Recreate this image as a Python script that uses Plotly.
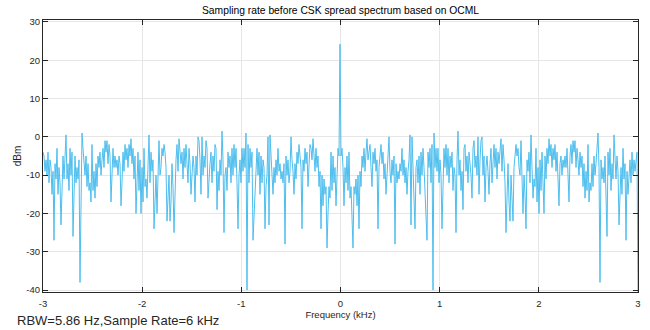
import numpy as np
import plotly.graph_objects as go

# Positive-frequency half of the spectrum (dBm), from just above 0 kHz up to 3 kHz
pos_half = [
    -5, -3, -8, -18, -8, -12, -5, -14, -4, -16,
    -13, -20, -29, -13, -15, -11, -18, -10, -24, -9,
    -13, -5, -8, -3, -9, -4, -0.5, -6, -3, -2,
    -8, -13, -4, -7, -3, -9, -6, -24, -8, -5,
    -2, -7, -4, -11, -7, -15, -9, -6, 0, -9,
    -12, -6, -10, -5, -28, -7, -12, -9, -11, -7,
    -9, -3, -10, -6, -12, -8, -15, -9, -6, 0.5,
    -23, 0, -10, -13, -24, -8, -6, -12, -5, -15,
    -4, -10, -3, -8, -16, -20, -27, -4, -8, -3,
    -12, -2, -40, 1, -8, -3, -9, -3, -12, -6,
    -10, -24, -12, -3, -8, -2, -10, -3, -12, -5,
    -8, -4, -14, -8, -10, -25, -6, 1.5, -10, -6,
    -14, -9, -19, -3, -2, -9, -5, -12, -4, -7,
    -10, -16, -3, -1, -8, -5, -10, 0, -15, -6,
    -1, 0, -10, -5, -17, -8, -5, -9, -15, -7,
    -3, -12, -6, -2, -8, -3, -11, -4, -7, -3,
    -0.5, -9, -2, -6, -12, -25, -13, -7, -17, -22,
    -10, -16, -22, -8, -4, -2, -5, -3, -8, -10,
    -1, -12, -20, -10, -15, -24, -6, -9, -4, -12,
    0.5, -8, -16, -11, -13, -3, -17, -8, -20, -6,
    -14, -4, -10, -20, -5, -11, -3, -7, -0.5, -5,
    -2, -8, -3, -6, -2, -9, -4, -12, -18, -7,
    -5, -10, -6, -8, -5, -8, -3, -10, -17, -5,
    -2, -7, -1, -4, -1, -8, -3, -6, -10, -4,
    -8, -5, -13, -7, -16, -9, -14, -2, -17, -12,
    -14, -7, -13, -5, -10, -7, -3, 1, -8, -38,
    -6, -11, -8, -12, -5, -18, -26, -4, -10, -3,
    -14, -7, -11, 0.5, -6, -11, -5, -9, -23, -12,
    -8, -15, -3, -11, -7, -27, -9, -15, -8, -6,
    -12, -4, -10, -6, -9, -5, -4,
]
dc_peak = 24.2        # carrier line at 0 kHz
edge_value = -40.5    # last bin at +3 kHz

power_dbm = pos_half[::-1] + [dc_peak] + pos_half + [edge_value]
freq_khz = np.linspace(-3, 3, len(power_dbm))

x_ticks = [-3, -2, -1, 0, 1, 2, 3]
y_ticks = [-40, -30, -20, -10, 0, 10, 20, 30]

fig = go.Figure()
fig.add_trace(go.Scatter(
    x=freq_khz, y=power_dbm, mode="lines",
    line=dict(color="#4DBEEE", width=1),
    hoverinfo="skip", showlegend=False,
))

font_family = "Liberation Sans, Arial, sans-serif"
axis_common = dict(
    showline=True, mirror="ticks", linecolor="#262626", linewidth=1,
    ticks="inside", ticklen=5, tickcolor="#262626",
    showgrid=True, gridcolor="#E6E6E6", gridwidth=1,
    zeroline=False, automargin=False,
    tickfont=dict(family=font_family, size=9.5, color="#262626"),
)

L, R, T, B = 43, 638, 20, 292
fig.update_layout(
    width=650, height=330,
    margin=dict(l=L, r=650 - R, t=T, b=330 - B),
    paper_bgcolor="white", plot_bgcolor="white",
    font=dict(family=font_family, color="#262626"),
    title=dict(
        text="Sampling rate before CSK spread spectrum based on OCML",
        x=(L + R) / 2 / 650, xanchor="center",
        y=1 - 10 / 330, yanchor="middle",
        font=dict(family=font_family, size=10.3, color="#000000"),
    ),
    xaxis=dict(
        range=[-3, 3], tickvals=x_ticks,
        ticktext=[str(v) for v in x_ticks],
        ticklabelstandoff=3,
        title=dict(text="Frequency (kHz)", standoff=2,
                   font=dict(family=font_family, size=9.5, color="#262626")),
        **axis_common,
    ),
    yaxis=dict(
        range=[-40.5, 30.5], tickvals=y_ticks,
        ticktext=[str(v) for v in y_ticks],
        title=dict(text="dBm", standoff=2,
                   font=dict(family=font_family, size=10, color="#262626")),
        **axis_common,
    ),
    annotations=[dict(
        text="RBW=5.86 Hz,Sample Rate=6 kHz",
        xref="paper", yref="paper",
        x=(15 - L) / (R - L), xanchor="left",
        y=-(320 - B) / (B - T), yanchor="middle",
        showarrow=False,
        font=dict(family=font_family, size=13, color="#262626"),
    )],
)

fig.write_html("out.html")
